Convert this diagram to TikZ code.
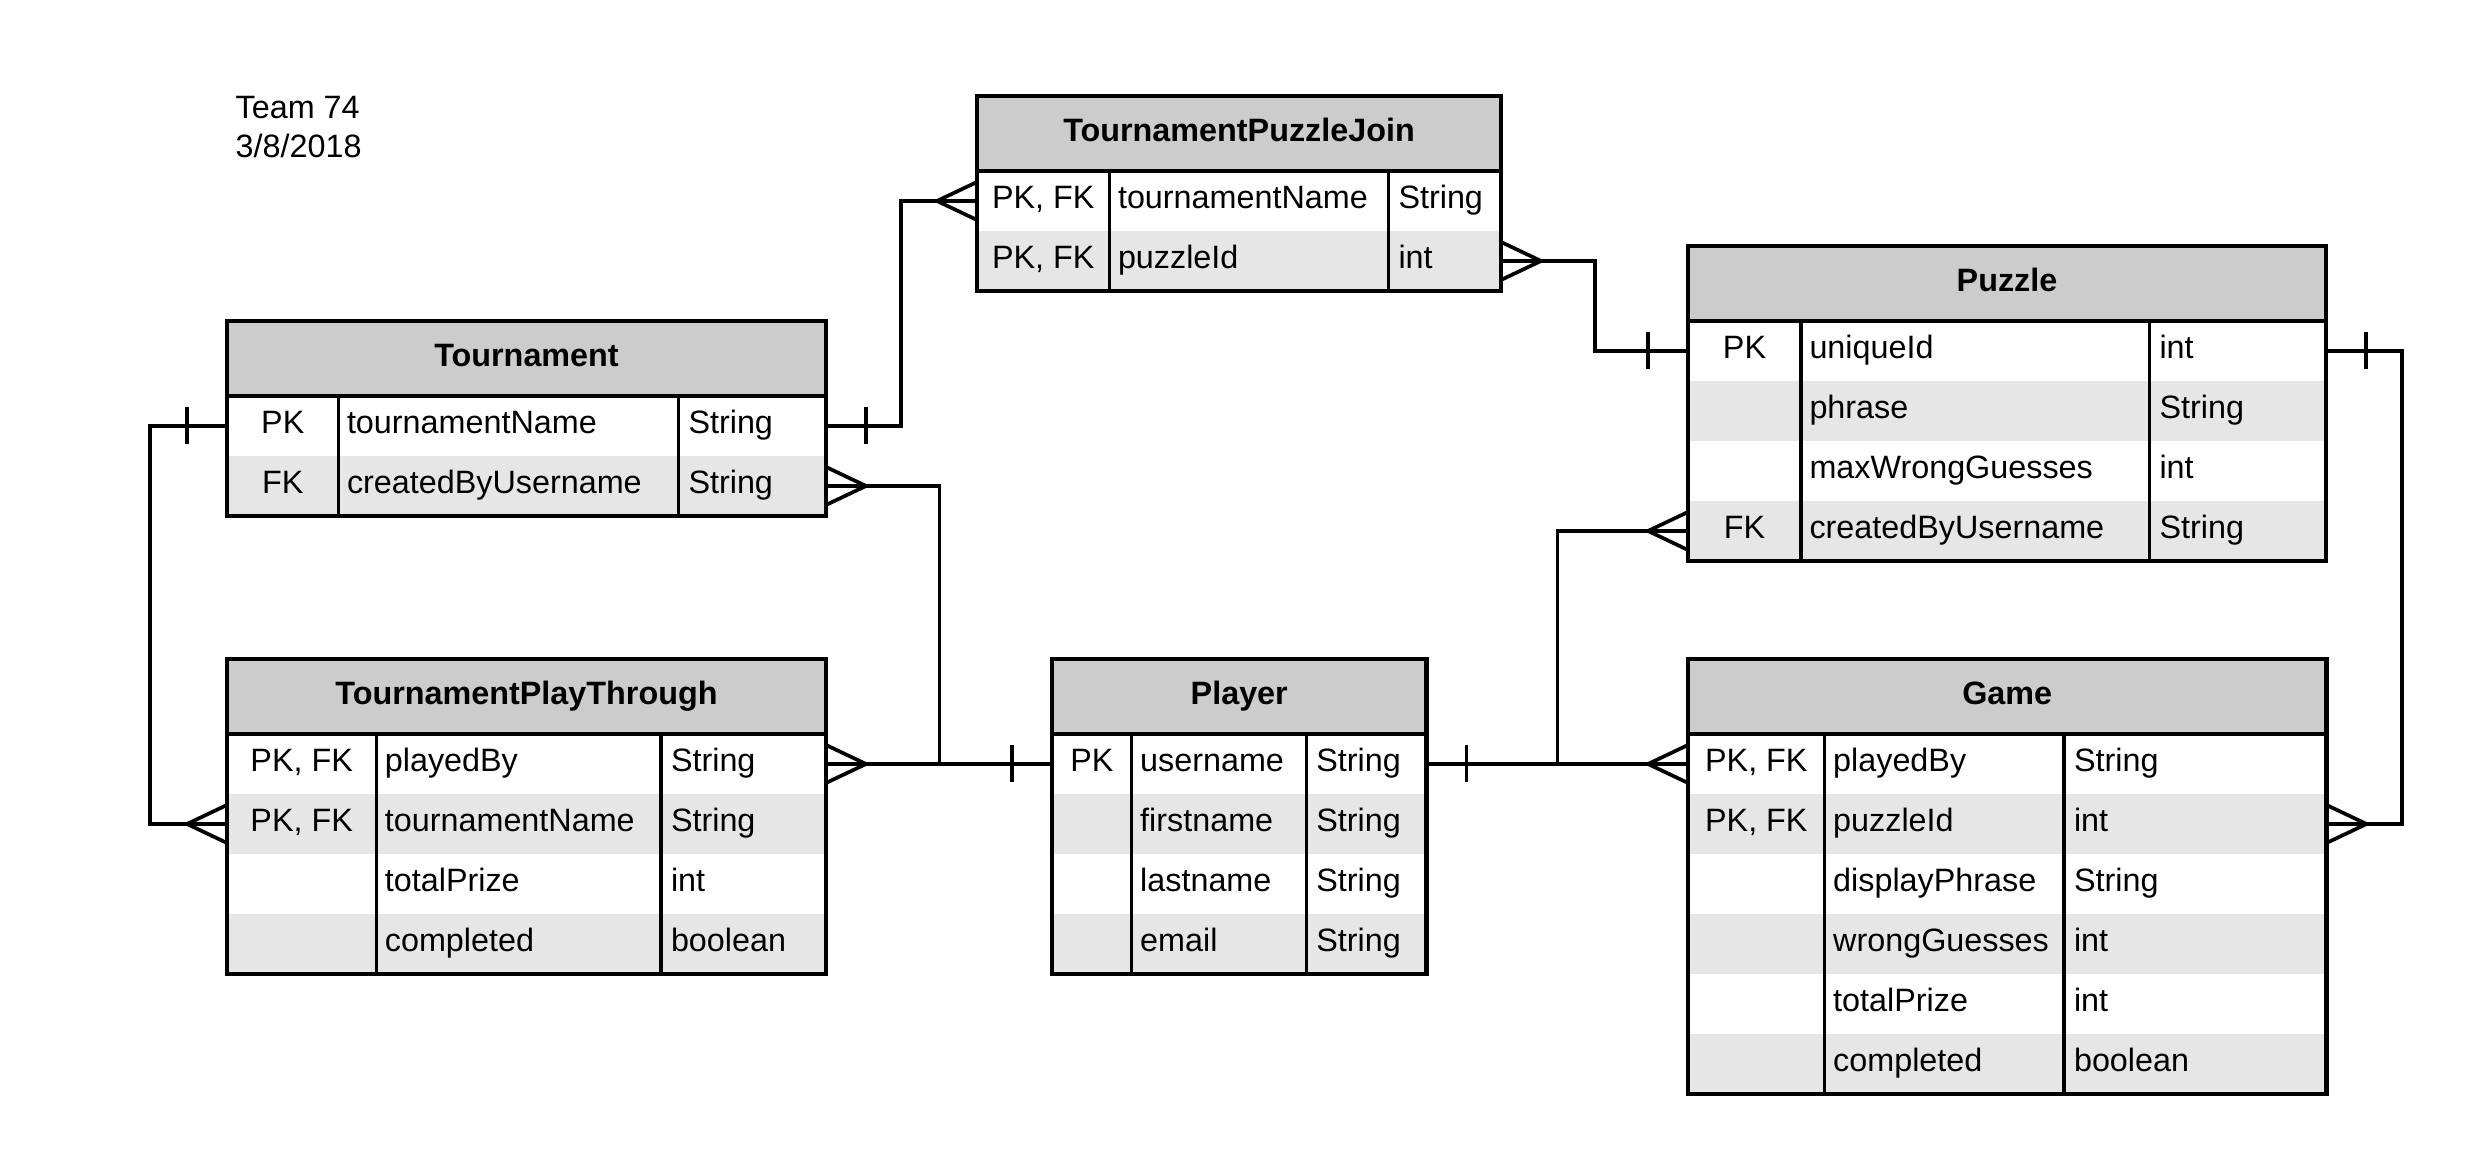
\documentclass[tikz,border=0pt]{standalone}
\usepackage{fontspec}
\setmainfont{Liberation Sans}
\usepackage{xcolor}
\definecolor{headgray}{HTML}{CCCCCC}
\definecolor{rowgray}{HTML}{E6E6E6}
\usepackage{tikz}
\usetikzlibrary{positioning,calc}
\tikzstyle{attr}=[inner sep=0pt, outer sep=0pt, text height=0.2325cm, text depth=0.078cm]
\tikzstyle{header}=[attr, rectangle, draw=black, line width=1.2pt, fill=headgray,
        minimum height=0.75cm, anchor=north west, font=\fontsize{9.2}{11.2}\selectfont\bfseries]
\tikzstyle{erow}=[rectangle, inner sep=0pt, outer sep=0pt, minimum height=0.6cm]
\tikzstyle{border}=[line width=1.2pt]
\tikzstyle{divider}=[line width=0.95pt]
\tikzstyle{line}=[line width=1.05pt]
% one table: name, placement, width, key column, name column, number of rows, rows
\newcommand{\entity}[7]{
  \node (#1) [header, minimum width=#3cm, #2] {#1};
  \foreach \colk/\coln/\colt [count=\i] in {#7} {
    \ifodd\i\relax \def\rowfill{white}\else \def\rowfill{rowgray}\fi
    \node (#1-\i) [erow, fill=\rowfill, minimum width=#3cm, anchor=north west]
      at ($(#1.south west)+(0,{-0.6*(\i-1)})$) {};
    \node (#1-\i-k) [attr] at ($(#1-\i.west)+(#4/2,0)$) {\colk};
    \node (#1-\i-n) [attr, anchor=west] at ($(#1-\i.west)+(#4+0.085,0)$) {\coln};
    \node (#1-\i-t) [attr, anchor=west] at ($(#1-\i.west)+(#4+#5+0.10,0)$) {\colt};
    \draw[divider] ($(#1-\i.north west)+(#4,0)$) -- ($(#1-\i.south west)+(#4,0)$);
    \draw[divider] ($(#1-\i.north west)+(#4+#5,0)$) -- ($(#1-\i.south west)+(#4+#5,0)$);
  }
  \draw[border] (#1.south west) -- (#1.south east);
  \draw[border] (#1.north west) rectangle (#1-#6.south east);
}
% crow's foot ends
\newcommand{\erone}[2]{\draw[line] ($(#1)+(#2*0.4,0.185)$) -- ++(0,-0.37);}
\newcommand{\ermany}[2]{\draw[line] ($(#1)+(0,0.19)$) -- ($(#1)+(#2*0.4,0)$) -- ($(#1)+(0,-0.19)$);}

\begin{document}
\begin{tikzpicture}[font=\fontsize{9.2}{11.2}\selectfont]
\useasboundingbox (0,0) rectangle (24.79,11.70);

\node (title) [anchor=north west, inner sep=0pt, align=left] at (2.35,10.745) {Team 74\\3/8/2018};

\entity{TournamentPuzzleJoin}{at={(9.77,10.74)}}{5.24}{1.325}{2.79}{2}
  {{PK, FK}/tournamentName/String, {PK, FK}/puzzleId/int}
\entity{Puzzle}{at={(16.88,9.24)}}{6.38}{1.13}{3.485}{4}
  {PK/uniqueId/int, {}/phrase/String, {}/maxWrongGuesses/int, FK/createdByUsername/String}
\entity{Tournament}{at={(2.27,8.49)}}{5.99}{1.115}{3.40}{2}
  {PK/tournamentName/String, FK/createdByUsername/String}
\entity{TournamentPlayThrough}{at={(2.27,5.11)}}{5.99}{1.494}{2.846}{4}
  {{PK, FK}/playedBy/String, {PK, FK}/tournamentName/String, {}/totalPrize/int, {}/completed/boolean}
\entity{Player}{right=2.26cm of TournamentPlayThrough}{3.745}{0.797}{1.747}{4}
  {PK/username/String, {}/firstname/String, {}/lastname/String, {}/email/String}
\entity{Game}{right=2.615cm of Player}{6.385}{1.367}{2.393}{6}
  {{PK, FK}/playedBy/String, {PK, FK}/puzzleId/int, {}/displayPhrase/String,
   {}/wrongGuesses/int, {}/totalPrize/int, {}/completed/boolean}

% draw lines
\draw[line] (Tournament-1.west) -- ++(-0.767,0) |- (TournamentPlayThrough-2.west);
\erone{Tournament-1.west}{-1}
\ermany{TournamentPlayThrough-2.west}{-1}

\draw[line] (Tournament-1.east) -- ++(0.747,0) |- (TournamentPuzzleJoin-1.west);
\erone{Tournament-1.east}{1}
\ermany{TournamentPuzzleJoin-1.west}{-1}

\draw[line] (Tournament-2.east) -- ++(1.135,0) |- (Player-1.west);
\ermany{Tournament-2.east}{1}

\draw[line] (TournamentPlayThrough-1.east) -- (Player-1.west);
\ermany{TournamentPlayThrough-1.east}{1}
\erone{Player-1.west}{-1}

\draw[line] (Player-1.east) -- (Game-1.west);
\erone{Player-1.east}{1}
\ermany{Game-1.west}{-1}

\draw[line] (Puzzle-4.west) -- ++(-1.304,0) |- (Game-1.west);
\ermany{Puzzle-4.west}{-1}

\draw[line] (TournamentPuzzleJoin-2.east) -- ++(0.94,0) |- (Puzzle-1.west);
\ermany{TournamentPuzzleJoin-2.east}{1}
\erone{Puzzle-1.west}{-1}

\draw[line] (Puzzle-1.east) -- ++(0.76,0) |- (Game-2.east);
\erone{Puzzle-1.east}{1}
\ermany{Game-2.east}{1}

\end{tikzpicture}
\end{document}
